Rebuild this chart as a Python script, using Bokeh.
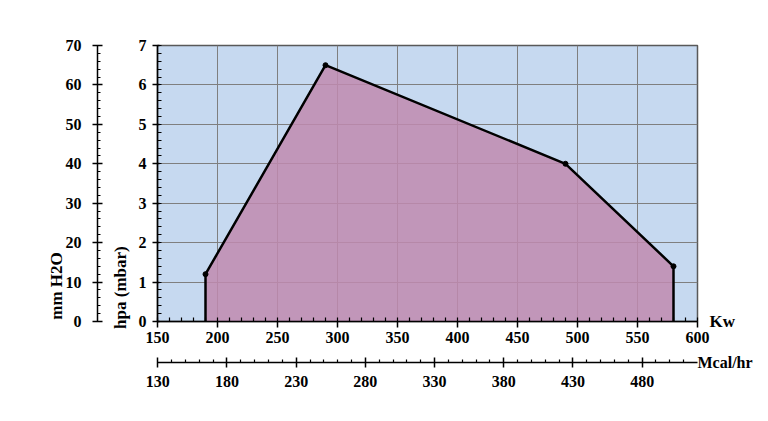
from bokeh.plotting import figure
from bokeh.models import (Range1d, LinearAxis, SingleIntervalTicker, FixedTicker, Grid)
from bokeh.embed import file_html
from bokeh.resources import INLINE

# ---- data ----
kw = [190, 190, 290, 490, 580, 580]
hpa = [0, 1.2, 6.5, 4.0, 1.4, 0]
pts_kw = [190, 290, 490, 580]
pts_hpa = [1.2, 6.5, 4.0, 1.4]

kw_range = (150, 600)
hpa_range = (0, 7)
mm_range = (0, 70)
mcal_range = (129.8, 520)
mcal_ticks = [130, 180, 230, 280, 330, 380, 430, 480]
mcal_minor = [t for t in range(140, 516, 10) if t not in mcal_ticks]

FONT = "Liberation Serif"
FS = "16px"

p = figure(width=760, height=405, output_backend="svg", toolbar_location=None,
           x_range=Range1d(*kw_range), y_range=Range1d(*hpa_range),
           x_axis_type=None, y_axis_type=None,
           min_border_left=157, min_border_right=63, min_border_top=45, min_border_bottom=84)
p.background_fill_color = "#c6d9f0"
p.border_fill_color = "white"
p.outline_line_color = "#595959"
p.outline_line_width = 1.5
p.extra_y_ranges = {"mm": Range1d(*mm_range)}
p.extra_x_ranges = {"mcal": Range1d(*mcal_range)}


def style(ax):
    ax.major_label_text_font = FONT
    ax.major_label_text_font_style = "bold"
    ax.major_label_text_font_size = FS
    ax.major_label_text_color = "black"
    ax.axis_line_color = "black"
    ax.axis_line_width = 1.5
    ax.major_tick_line_color = "black"
    ax.major_tick_line_width = 1.5
    ax.minor_tick_line_color = "black"
    ax.minor_tick_line_width = 1.2


def spacer(size, tick, **kw_):
    return LinearAxis(ticker=FixedTicker(ticks=[tick]), major_label_overrides={tick: " "},
                      major_label_text_font_size="1px", axis_line_color=None,
                      major_tick_line_color=None, minor_tick_line_color=None,
                      major_tick_out=size, major_tick_in=0, minor_tick_out=0, minor_tick_in=0,
                      major_label_standoff=0, **kw_)


def text_axis(tick, text, standoff, orientation, size="17px", **kw_):
    ax = LinearAxis(ticker=FixedTicker(ticks=[tick]), major_label_overrides={tick: text},
                    axis_line_color=None, major_tick_line_color=None, minor_tick_line_color=None,
                    major_tick_out=0, major_tick_in=0, minor_tick_out=0, minor_tick_in=0,
                    major_label_standoff=standoff, major_label_orientation=orientation, **kw_)
    ax.major_label_text_font = FONT
    ax.major_label_text_font_style = "bold"
    ax.major_label_text_font_size = size
    ax.major_label_text_color = "black"
    return ax

# hpa axis (inner left)
ax_hpa = LinearAxis(ticker=SingleIntervalTicker(interval=1, num_minor_ticks=5))
style(ax_hpa)
ax_hpa.major_tick_out = 5
ax_hpa.major_tick_in = 2
ax_hpa.minor_tick_out = 0
ax_hpa.minor_tick_in = 4
ax_hpa.major_label_standoff = 6
p.add_layout(ax_hpa, "left")
p.add_layout(text_axis(0.86, "hpa (mbar)", 5, "vertical"), "left")
p.add_layout(spacer(8, 3), "left")

ax_mm = LinearAxis(y_range_name="mm", ticker=SingleIntervalTicker(interval=10, num_minor_ticks=5))
style(ax_mm)
ax_mm.major_tick_out = 5
ax_mm.major_tick_in = 5
ax_mm.minor_tick_out = 0
ax_mm.minor_tick_in = 3
ax_mm.major_label_standoff = 11
p.add_layout(ax_mm, "left")
p.add_layout(text_axis(9, "mm H2O", -4, "vertical", y_range_name="mm"), "left")

# Kw axis (inner bottom)
ax_kw = LinearAxis(ticker=SingleIntervalTicker(interval=50, num_minor_ticks=5))
style(ax_kw)
ax_kw.major_tick_out = 6
ax_kw.major_tick_in = 0
ax_kw.minor_tick_out = 0
ax_kw.minor_tick_in = 4
ax_kw.major_label_standoff = 4
p.add_layout(ax_kw, "below")
p.add_layout(spacer(13, 300), "below")

ax_mcal = LinearAxis(x_range_name="mcal", ticker=FixedTicker(ticks=mcal_ticks, minor_ticks=mcal_minor))
style(ax_mcal)
ax_mcal.major_tick_out = 5
ax_mcal.major_tick_in = 5
ax_mcal.minor_tick_out = 0
ax_mcal.minor_tick_in = 3
ax_mcal.major_label_standoff = 8
p.add_layout(ax_mcal, "below")

# "Mcal/hr" unit text at the right end of the Mcal/hr axis (tiny negative angle -> left aligned)
p.add_layout(text_axis(mcal_range[1], "Mcal/hr", -27, -0.0001, size="16px", x_range_name="mcal"), "below")

# "Kw" unit text at the right end of the Kw axis
p.add_layout(text_axis(0, "Kw", 12, "horizontal"), "right")

p.add_layout(Grid(dimension=0, ticker=SingleIntervalTicker(interval=50),
                  grid_line_color="#7f7f7f", grid_line_width=1))
p.add_layout(Grid(dimension=1, ticker=SingleIntervalTicker(interval=1),
                  grid_line_color="#7f7f7f", grid_line_width=1))

p.patch(kw, hpa, fill_color="#bf89af", fill_alpha=0.85, line_color=None)
p.line(kw, hpa, line_color="black", line_width=2.5)
p.scatter(pts_kw, pts_hpa, size=5, color="black")

open("out.html", "w").write(file_html(p, INLINE))
